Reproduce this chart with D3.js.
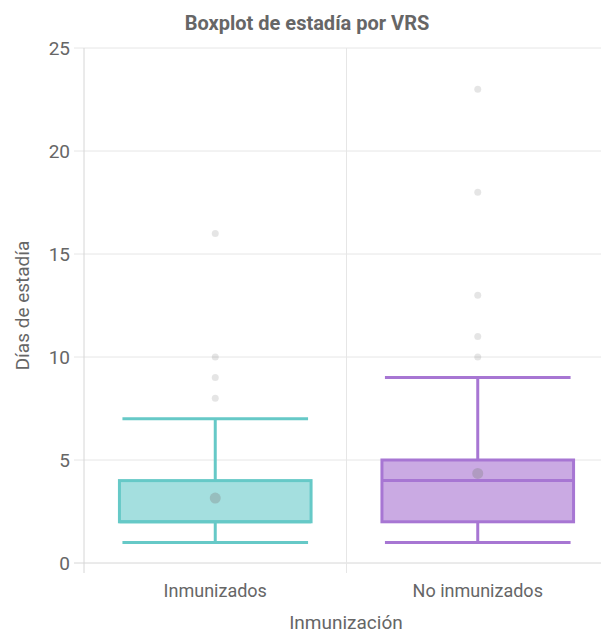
<!DOCTYPE html>
<html>
<head>
<meta charset="utf-8">
<script src="https://cdn.jsdelivr.net/npm/d3@7"></script>
<style>
  body { margin: 0; background: #fff; }
  text { font-family: Roboto, "Liberation Sans", Arial, sans-serif; fill: #666; }
</style>
</head>
<body>
<svg id="chart" width="601" height="639"></svg>
<script>
// values
const groups = ["Inmunizados", "No inmunizados"];
const mins = [1, 1];
const q1s = [2, 2];
const medians = [2, 4];
const q3s = [4, 5];
const maxs = [7, 9];
const means = [3.15, 4.35];
const outliers = [
    [8, 9, 10, 16],
    [10, 11, 13, 18, 23]
];
const yTicks = [0, 5, 10, 15, 20, 25];
const strokes = ["#66c9c7", "#a776d3"];
const fills = ["#a4dfdf", "#caaae3"];

let svg = d3.select("#chart");
let margin = {left: 84, top: 48, right: -8, bottom: 76};
let width = +svg.attr("width") - margin.left - margin.right;
let height = +svg.attr("height") - margin.top - margin.bottom;

let x = d3.scaleBand().domain(groups).range([0, width]);
let y = d3.scaleLinear().domain([0, 25]).range([height, 0]);

let g = svg.append("g").attr("transform", `translate(${margin.left}, ${margin.top})`);

// horizontal grid + y ticks
g.selectAll(".hgrid")
    .data(yTicks)
    .enter()
    .append("line")
    .attr("x1", -10)
    .attr("x2", width)
    .attr("y1", d => y(d))
    .attr("y2", d => y(d))
    .attr("stroke", d => d === 0 ? "#d6d6d6" : "#e6e6e6")
    .attr("stroke-width", 1);
g.selectAll(".ytick")
    .data(yTicks)
    .enter()
    .append("text")
    .attr("x", -14)
    .attr("y", d => y(d))
    .attr("dy", "0.35em")
    .attr("text-anchor", "end")
    .attr("font-size", 19)
    .text(d => d);

// vertical grid at category borders
let borders = groups.map(d => x(d)).concat([width]);
g.selectAll(".vgrid")
    .data(borders)
    .enter()
    .append("line")
    .attr("x1", d => d)
    .attr("x2", d => d)
    .attr("y1", 0)
    .attr("y2", height + 10)
    .attr("stroke", (d, i) => i === 0 ? "#d6d6d6" : "#e6e6e6")
    .attr("stroke-width", 1);

// x tick labels
g.selectAll(".xtick")
    .data(groups)
    .enter()
    .append("text")
    .attr("x", d => x(d) + x.bandwidth() / 2)
    .attr("y", height + 34)
    .attr("text-anchor", "middle")
    .attr("font-size", 18)
    .text(d => d);

// boxes
const boxW = x.bandwidth() * 0.73;
groups.forEach((grp, i) => {
    let cx = x(grp) + x.bandwidth() / 2;
    let box = g.append("g");
    // whisker stems
    box.append("line")
        .attr("x1", cx).attr("x2", cx)
        .attr("y1", y(maxs[i])).attr("y2", y(q3s[i]))
        .attr("stroke", strokes[i]).attr("stroke-width", 3);
    box.append("line")
        .attr("x1", cx).attr("x2", cx)
        .attr("y1", y(mins[i])).attr("y2", y(q1s[i]))
        .attr("stroke", strokes[i]).attr("stroke-width", 3);
    // caps
    for (let v of [mins[i], maxs[i]]) {
        box.append("line")
            .attr("x1", cx - boxW / 2 + 3).attr("x2", cx + boxW / 2 - 3)
            .attr("y1", y(v)).attr("y2", y(v))
            .attr("stroke", strokes[i]).attr("stroke-width", 3);
    }
    box.append("rect")
        .attr("x", cx - boxW / 2)
        .attr("y", y(q3s[i]))
        .attr("width", boxW)
        .attr("height", y(q1s[i]) - y(q3s[i]))
        .attr("fill", fills[i])
        .attr("stroke", strokes[i])
        .attr("stroke-width", 3);
    box.append("line")
        .attr("x1", cx - boxW / 2).attr("x2", cx + boxW / 2)
        .attr("y1", y(medians[i])).attr("y2", y(medians[i]))
        .attr("stroke", strokes[i]).attr("stroke-width", 3);
    // mean
    box.append("circle")
        .attr("cx", cx).attr("cy", y(means[i]))
        .attr("r", 5.5)
        .attr("fill", "rgba(128,128,128,0.35)");
    // outliers
    box.selectAll(".out")
        .data(outliers[i])
        .enter()
        .append("circle")
        .attr("cx", cx)
        .attr("cy", d => y(d))
        .attr("r", 3.5)
        .attr("fill", "rgba(0,0,0,0.1)");
});

// titles
svg.append("text")
    .attr("x", 307)
    .attr("y", 23)
    .attr("dy", "0.35em")
    .attr("text-anchor", "middle")
    .attr("font-size", 20)
    .attr("font-weight", "bold")
    .text("Boxplot de estadía por VRS");
svg.append("text")
    .attr("transform", `translate(29, ${margin.top + height / 2}) rotate(-90)`)
    .attr("text-anchor", "middle")
    .attr("font-size", 19)
    .text("Días de estadía");
svg.append("text")
    .attr("x", 346)
    .attr("y", 629)
    .attr("text-anchor", "middle")
    .attr("font-size", 19)
    .text("Inmunización");
</script>
</body>
</html>
